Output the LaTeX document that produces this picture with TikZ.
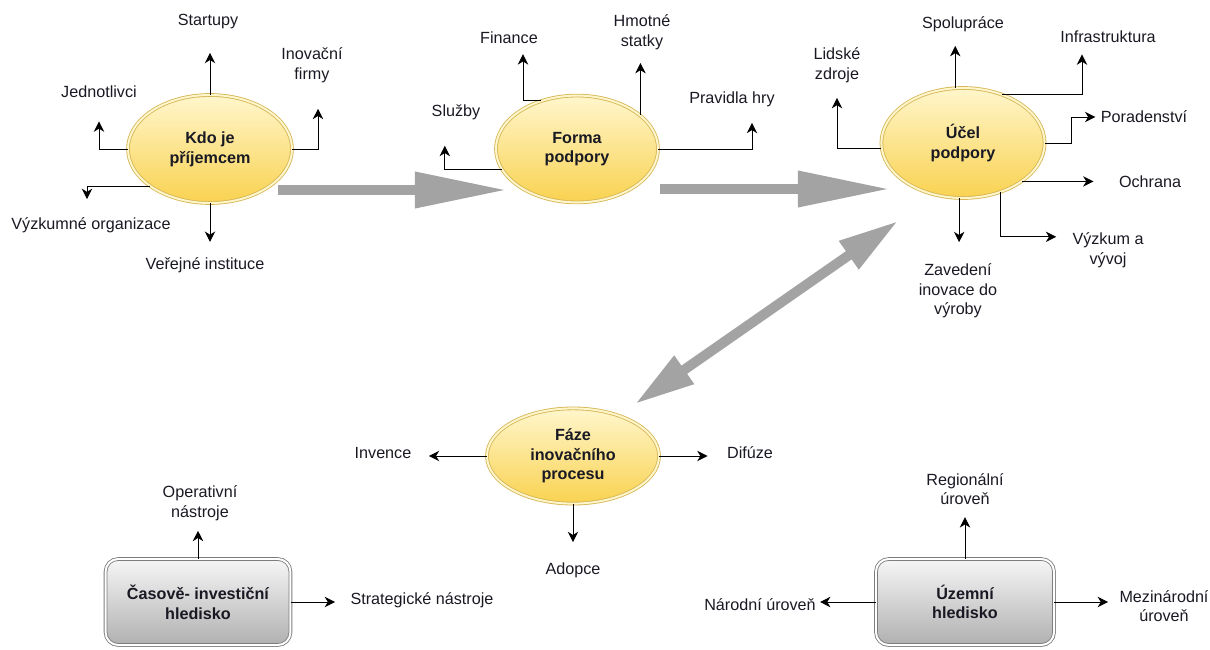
\documentclass[tikz,border=0pt]{standalone}
\usepackage{fontspec}
\setmainfont{Liberation Sans}
\usepackage{xcolor}
\usetikzlibrary{
    shapes.geometric,
    arrows.meta,
    positioning,
    calc
}
\definecolor{ellline}{RGB}{214,182,86}
\definecolor{elltop}{RGB}{255,246,204}
\definecolor{ellbot}{RGB}{249,210,80}
\definecolor{boxline}{RGB}{125,125,125}
\definecolor{boxtop}{RGB}{246,246,246}
\definecolor{boxbot}{RGB}{176,176,176}
\definecolor{biggray}{RGB}{163,163,163}
\definecolor{txt}{RGB}{25,25,35}

\begin{document}
\begin{tikzpicture}[
    x=0.025cm, y=-0.025cm,
    font=\fontsize{11.5}{14}\selectfont,
    text=txt,
    ellnode/.style={
        ellipse,
        draw=ellline,
        double=elltop,
        double distance=1.4pt,
        line width=0.6pt,
        top color=elltop,
        bottom color=ellbot,
        align=center,
        font=\fontsize{11.5}{14}\selectfont\bfseries
    },
    boxnode/.style={
        rectangle,
        rounded corners=9pt,
        draw=boxline,
        double=white,
        double distance=1.4pt,
        line width=0.6pt,
        top color=boxtop,
        bottom color=boxbot,
        align=center,
        font=\fontsize{11.5}{14}\selectfont\bfseries
    },
    lbl/.style={align=center, inner sep=0pt},
    arrow/.style={-{Stealth[length=2.6mm, width=2.6mm, inset=0.8mm]}, line width=0.7pt},
    bigarrow/.style={-{Triangle[length=2.3cm, width=0.85cm]}, line width=0.25cm, biggray},
    twoarrow/.style={{Triangle[length=1.5cm, width=0.8cm]}-{Triangle[length=1.5cm, width=0.8cm]}, line width=0.25cm, biggray}
]

\useasboundingbox (0,0) rectangle (1210,650);

% Kdo je prijemcem
\node[ellnode, minimum width=4.1cm, minimum height=2.7cm] (kdo) at (210,149) {Kdo je\\příjemcem};
\node[lbl] (startupy) at (208,22) {Startupy};
\node[lbl] (inovfirmy) at (312,65) {Inovační\\firmy};
\node[lbl] (jednotlivci) at (99,92) {Jednotlivci};
\node[lbl] (vyzkorg) at (91,225) {Výzkumné organizace};
\node[lbl] (verejne) at (205,265) {Veřejné instituce};

\draw[arrow, shorten >=5.8mm] (kdo.north) -- (kdo.north |- startupy.south);
\draw[arrow, shorten >=6.5mm] (kdo.east) -| ([xshift=0.15cm]inovfirmy.south);
\draw[arrow, shorten >=5.8mm] (kdo.west) -| (jednotlivci.south);
\draw[arrow, shorten >=4.5mm] (kdo.212) -| ([xshift=-0.1cm]vyzkorg.north);
\draw[arrow, shorten >=3.8mm] (kdo.south) -- (kdo.south |- verejne.north);

% Forma podpory
\node[ellnode, minimum width=4.05cm, minimum height=2.67cm] (forma) at (577,149) {Forma\\podpory};
\node[lbl] (sluzby) at (456,112) {Služby};
\node[lbl] (finance) at (509,38) {Finance};
\node[lbl] (hmotne) at (642,32) {Hmotné\\statky};
\node[lbl] (pravidla) at (732,99) {Pravidla hry};

\draw[arrow, shorten >=6.5mm] (forma.195) -| ([xshift=-0.28cm]sluzby.south);
\draw[arrow, shorten >=2.5mm] (forma.127) -| ([xshift=0.35cm]finance.south);
\draw[arrow, shorten >=3.3mm] (forma.28) -- (forma.28 |- hmotne.south);
\draw[arrow, shorten >=4mm] (forma.east) -| ([xshift=0.5cm]pravidla.south);

% Ucel podpory
\node[ellnode, minimum width=4.08cm, minimum height=2.75cm] (ucel) at (963,143) {Účel\\podpory};
\node[lbl] (lidske) at (837,65) {Lidské\\zdroje};
\node[lbl] (spoluprace) at (963,24) {Spolupráce};
\node[lbl] (infra) at (1108,37) {Infrastruktura};
\node[lbl] (poradenstvi) at (1144,117) {Poradenství};
\node[lbl] (ochrana) at (1150,182) {Ochrana};
\node[lbl] (vyvoj) at (1108,250) {Výzkum a\\vývoj};
\node[lbl] (zavedeni) at (958,291) {Zavedení\\inovace do\\výroby};

\draw[arrow, shorten >=3.8mm] (ucel.184) -| (lidske.south);
\draw[arrow, shorten >=3.5mm] (ucel.98) -- (ucel.98 |- spoluprace.south);
\draw[arrow, shorten >=2.8mm] (ucel.51) -| ([xshift=-0.65cm]infra.south);
\draw[arrow, shorten >=1.3mm] (ucel.east) -- ++(26,0) |- (poradenstvi.west);
\draw[arrow, shorten >=6.3mm] (ucel.-33) -- (ucel.-33 -| ochrana.west);
\draw[arrow, shorten >=4mm] (ucel.-53) |- ([yshift=0.33cm]vyvoj.west);
\draw[arrow, shorten >=5.3mm] (ucel.-94) -- (ucel.-94 |- zavedeni.north);

% Faze inovacniho procesu
\node[ellnode, minimum width=4.3cm, minimum height=2.38cm] (faze) at (573,456) {Fáze\\inovačního\\procesu};
\node[lbl] (invence) at (383,453) {Invence};
\node[lbl] (difuze) at (750,453) {Difúze};
\node[lbl] (adopce) at (573,570) {Adopce};

\draw[arrow, shorten >=4.3mm] (faze.west) -- (faze.west -| invence.east);
\draw[arrow, shorten >=4.8mm] (faze.east) -- (faze.east -| difuze.west);
\draw[arrow, shorten >=5mm] (faze.south) -- (faze.south |- adopce.north);

% Casove-investicni hledisko
\node[boxnode, minimum width=4.62cm, minimum height=2.15cm] (cas) at (198,602) {Časově- investiční\\hledisko};
\node[lbl] (operativni) at (200,503) {Operativní\\nástroje};
\node[lbl] (strategicke) at (422,600) {Strategické nástroje};

\draw[arrow, shorten >=2.5mm] (cas.north) -- (cas.north |- operativni.south);
\draw[arrow, shorten >=3.8mm] (cas.east) -- (cas.east -| strategicke.west);

% Uzemni hledisko
\node[boxnode, minimum width=4.45cm, minimum height=2.15cm] (uzemni) at (965,602) {Územní\\hledisko};
\node[lbl] (regionalni) at (965,489) {Regionální\\úroveň};
\node[lbl] (narodni) at (760,605) {Národní úroveň};
\node[lbl] (mezinarodni) at (1164,606) {Mezinárodní\\úroveň};

\draw[arrow, shorten >=3mm] (uzemni.north) -- (uzemni.north |- regionalni.south);
\draw[arrow, shorten >=1mm] (uzemni.west) -- (uzemni.west -| narodni.east);
\draw[arrow, shorten >=2.8mm] (uzemni.east) -- (uzemni.east -| mezinarodni.west);

% Big gray arrows
\draw[bigarrow] ($(kdo.center)+(68,41)$) -- ($(forma.center)+(-70,41)$);
\draw[bigarrow] ($(forma.center)+(83,40)$) -- ($(ucel.center)+(-73,46)$);
\draw[twoarrow] ($(faze.center)+(62,-52)$) -- ($(ucel.center)+(-65,78)$);

\end{tikzpicture}
\end{document}
